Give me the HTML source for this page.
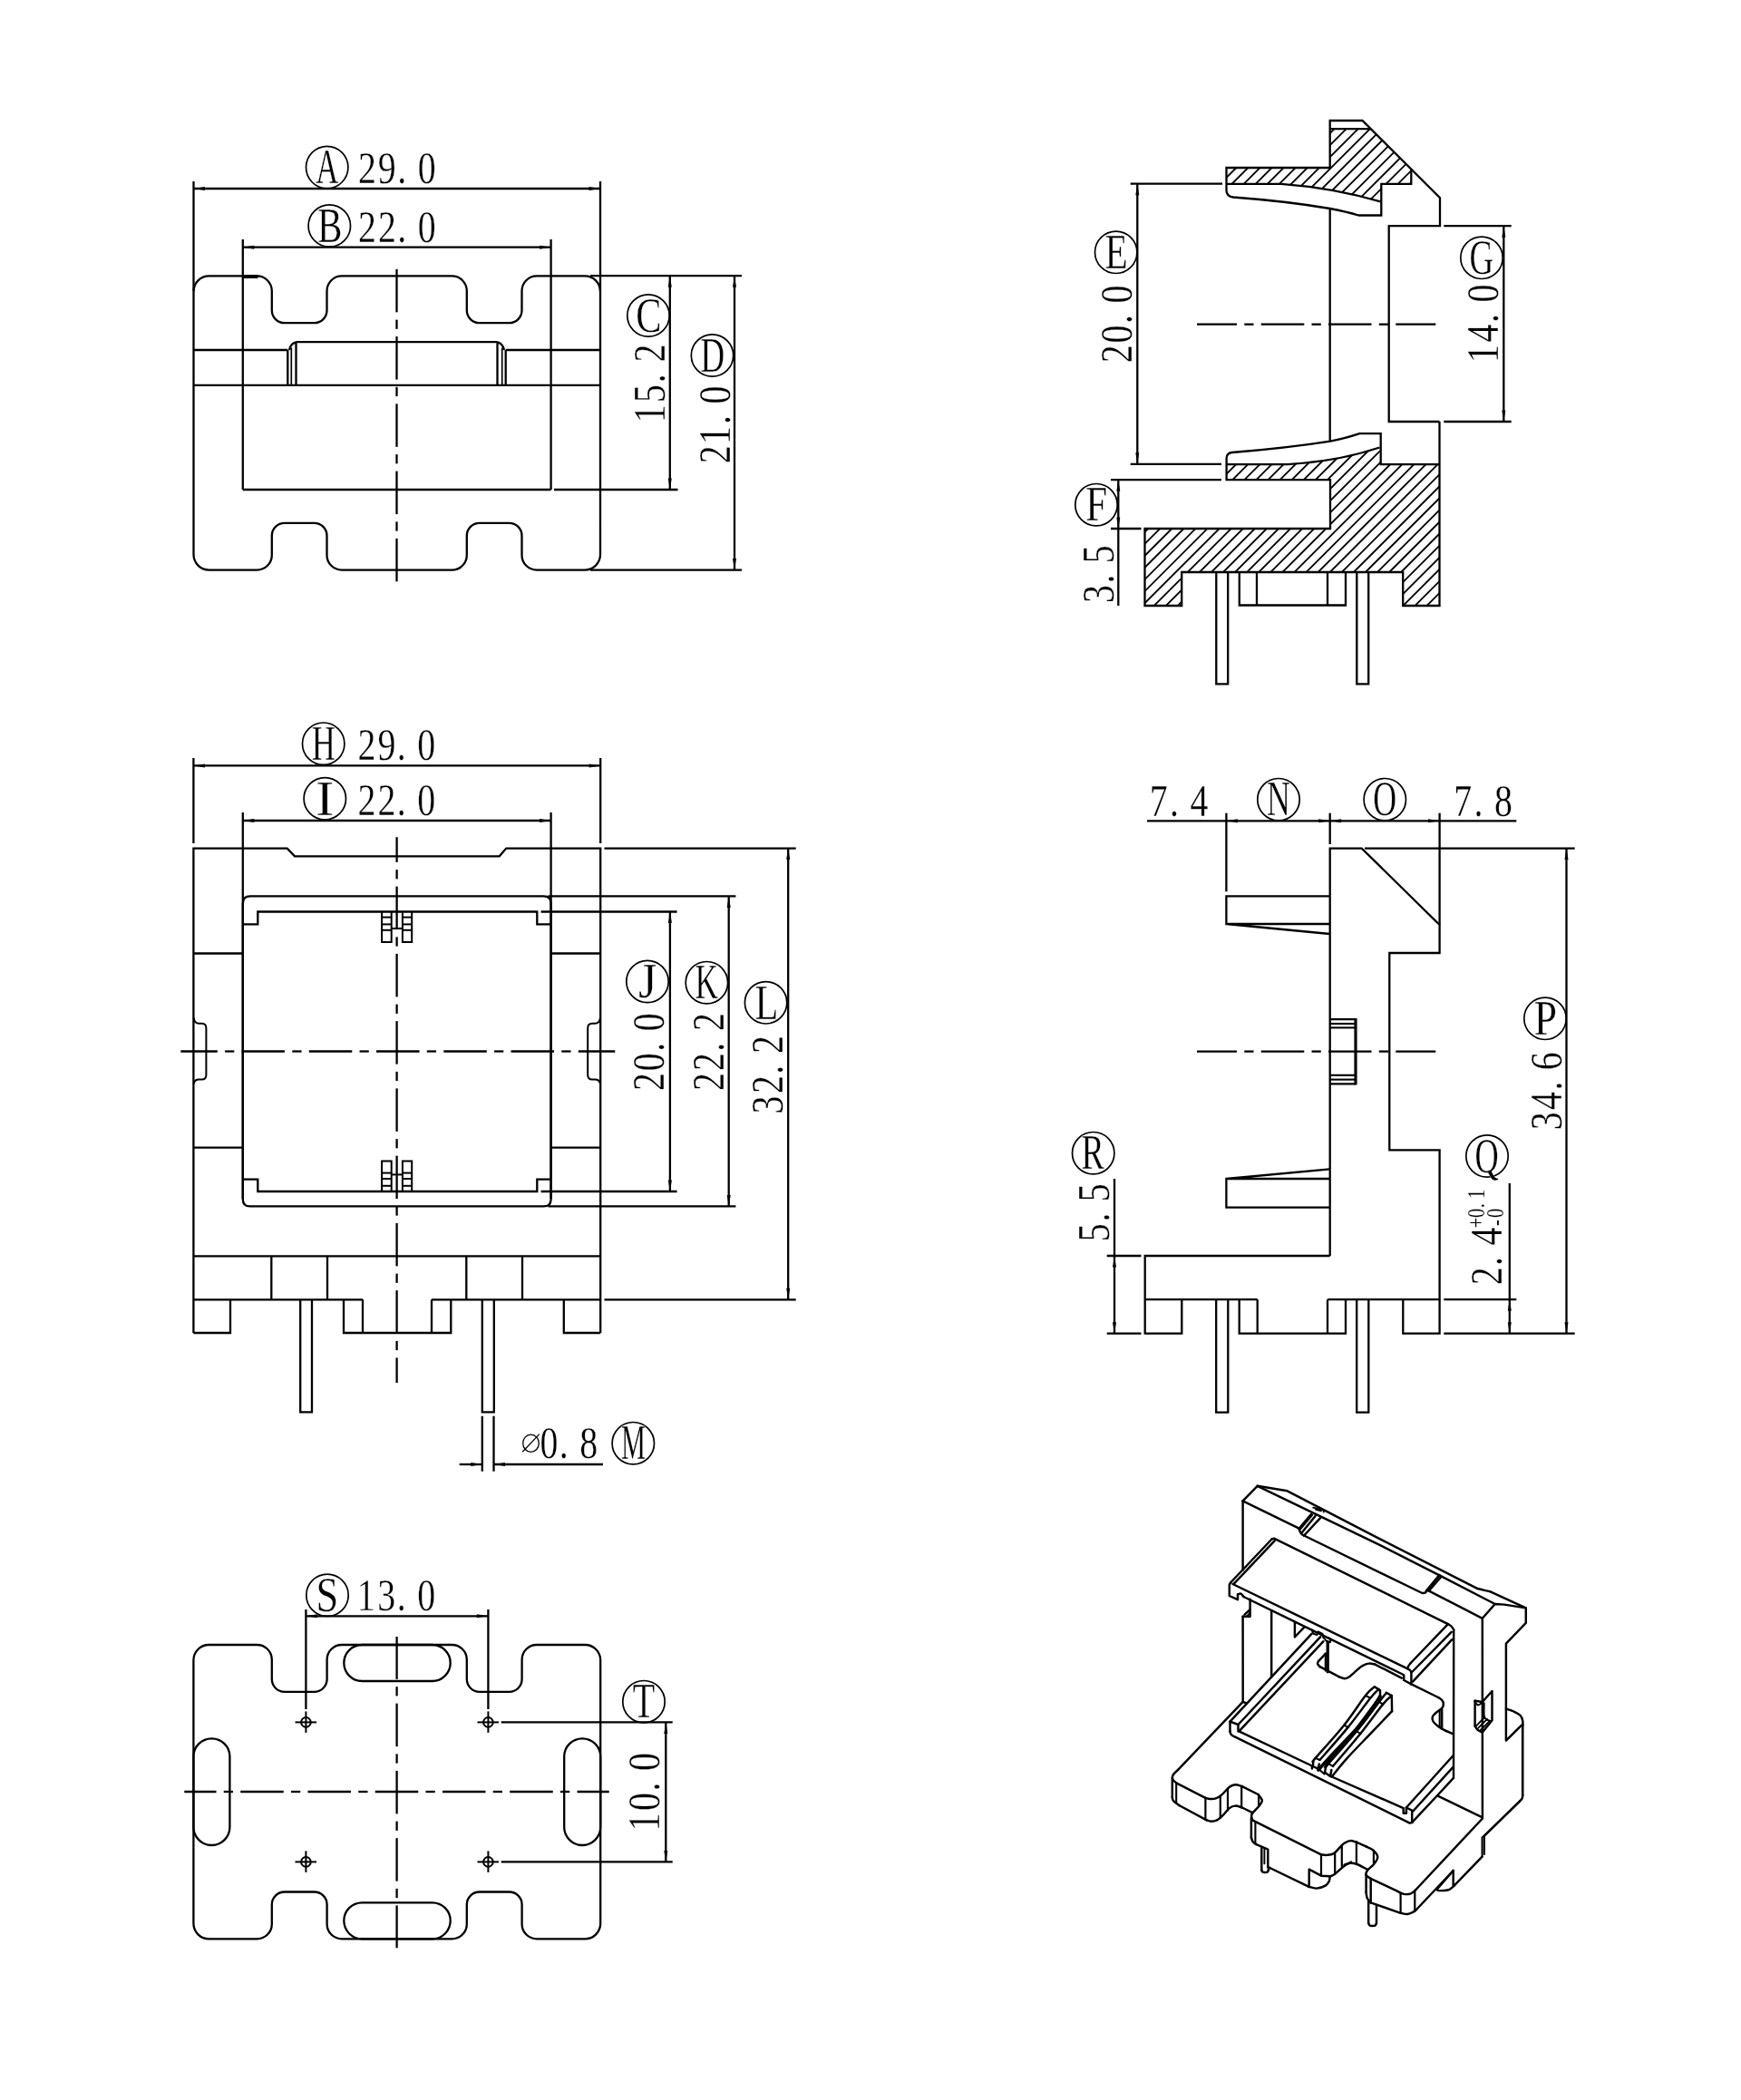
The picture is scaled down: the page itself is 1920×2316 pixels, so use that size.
<!DOCTYPE html>
<html><head><meta charset="utf-8"><title>drawing</title>
<style>html,body{margin:0;padding:0;background:#fff}svg{display:block;mix-blend-mode:multiply;filter:grayscale(1)}text{font-family:"Liberation Serif",serif;fill:#000;stroke:#fff;stroke-width:.35px;paint-order:fill stroke}</style>
</head><body>
<svg width="1920" height="2316" viewBox="0 0 1920 2316" fill="none" stroke="#000" stroke-linecap="butt" stroke-linejoin="miter">
<rect x="0" y="0" width="1920" height="2316" fill="#fff" stroke="none"/>
<g id="v1">
<path d="M213.5 321.4 A17 17 0 0 1 230.5 304.4 H283.4 A16.4 16.4 0 0 1 299.8 320.8 V342.2 A14 14 0 0 0 313.8 356.2 H346.5 A14 14 0 0 0 360.5 342.2 V320.8 A16.4 16.4 0 0 1 376.9 304.4 H498.4 A16.4 16.4 0 0 1 514.8 320.8 V342.2 A14 14 0 0 0 528.8 356.2 H561.5 A14 14 0 0 0 575.5 342.2 V320.8 A16.4 16.4 0 0 1 591.9 304.4 H645 A17 17 0 0 1 662 321.4 V611.6 A17 17 0 0 1 645 628.6 H591.9 A16.4 16.4 0 0 1 575.5 612.2 V590.8 A14 14 0 0 0 561.5 576.8 H528.8 A14 14 0 0 0 514.8 590.8 V612.2 A16.4 16.4 0 0 1 498.4 628.6 H376.9 A16.4 16.4 0 0 1 360.5 612.2 V590.8 A14 14 0 0 0 346.5 576.8 H313.8 A14 14 0 0 0 299.8 590.8 V612.2 A16.4 16.4 0 0 1 283.4 628.6 H230.5 A17 17 0 0 1 213.5 611.6 Z" stroke-width="2.3"/>
<line x1="268.5" y1="305" x2="284.5" y2="305" stroke-width="4"/>
<line x1="267.8" y1="264" x2="267.8" y2="540" stroke-width="2.3"/>
<line x1="607.6" y1="264" x2="607.6" y2="540" stroke-width="2.3"/>
<line x1="267.8" y1="540" x2="607.6" y2="540" stroke-width="2.3"/>
<line x1="213.5" y1="200" x2="213.5" y2="321" stroke-width="2.3"/>
<line x1="662" y1="200" x2="662" y2="321" stroke-width="2.3"/>
<line x1="213.5" y1="208" x2="662" y2="208" stroke-width="2.3"/>
<path d="M213.5 208 L226 206 L226 210 Z" fill="#000" stroke="none"/>
<path d="M662 208 L649.5 210 L649.5 206 Z" fill="#000" stroke="none"/>
<line x1="267.8" y1="272.7" x2="607.6" y2="272.7" stroke-width="2.3"/>
<path d="M267.8 272.7 L280.3 270.7 L280.3 274.7 Z" fill="#000" stroke="none"/>
<path d="M607.6 272.7 L595.1 274.7 L595.1 270.7 Z" fill="#000" stroke="none"/>
<circle cx="360.7" cy="184.6" r="23.2" stroke-width="1.7"/>
<text transform="translate(348.2 202.35) scale(0.64 1)" font-size="54.2">A</text>
<g transform="translate(396.1 202) rotate(0)"><text transform="scale(0.79 1)" font-size="50.4" x="-1.54 26.26 53.26 81.73" y="0.4">29.0</text></g>
<circle cx="363.3" cy="249" r="23.2" stroke-width="1.7"/>
<text transform="translate(350.17 266.75) scale(0.75 1)" font-size="54.2">B</text>
<g transform="translate(396.1 266.2) rotate(0)"><text transform="scale(0.79 1)" font-size="50.4" x="-1.54 26.31 53.26 81.73" y="0.4">22.0</text></g>
<line x1="213.5" y1="386" x2="317.3" y2="386" stroke-width="2.3"/>
<line x1="557.7" y1="386" x2="662" y2="386" stroke-width="2.3"/>
<line x1="213.5" y1="424.8" x2="662" y2="424.8" stroke-width="2.3"/>
<path d="M317.3 424.8 V386 M557.7 424.8 V386" stroke-width="2.3"/>
<path d="M321.3 424.8 V383.6 M553.7 424.8 V383.6" stroke-width="1.7"/>
<path d="M319 386 Q320.5 378.3 327.5 377.1 H547.5 Q554.5 378.3 556 386 M326.5 424.8 V377.8 M548.5 424.8 V377.8" stroke-width="2.3"/>
<line x1="437.5" y1="296.85" x2="437.5" y2="344.35" stroke-width="2.3"/>
<line x1="437.5" y1="352.6" x2="437.5" y2="362.85" stroke-width="2.3"/>
<line x1="437.5" y1="371.1" x2="437.5" y2="418.6" stroke-width="2.3"/>
<line x1="437.5" y1="426.85" x2="437.5" y2="437.1" stroke-width="2.3"/>
<line x1="437.5" y1="445.35" x2="437.5" y2="492.85" stroke-width="2.3"/>
<line x1="437.5" y1="501.1" x2="437.5" y2="511.35" stroke-width="2.3"/>
<line x1="437.5" y1="519.6" x2="437.5" y2="567.1" stroke-width="2.3"/>
<line x1="437.5" y1="575.35" x2="437.5" y2="585.6" stroke-width="2.3"/>
<line x1="437.5" y1="593.85" x2="437.5" y2="641.35" stroke-width="2.3"/>
<line x1="651" y1="304.2" x2="818" y2="304.2" stroke-width="2.3"/>
<line x1="611" y1="540" x2="747.5" y2="540" stroke-width="2.3"/>
<line x1="651" y1="628.6" x2="818" y2="628.6" stroke-width="2.3"/>
<line x1="738.8" y1="304.2" x2="738.8" y2="540" stroke-width="2.3"/>
<path d="M738.8 304.2 L740.8 316.7 L736.8 316.7 Z" fill="#000" stroke="none"/>
<path d="M738.8 540 L736.8 527.5 L740.8 527.5 Z" fill="#000" stroke="none"/>
<line x1="810" y1="304.2" x2="810" y2="628.6" stroke-width="2.3"/>
<path d="M810 304.2 L812 316.7 L808 316.7 Z" fill="#000" stroke="none"/>
<path d="M810 628.6 L808 616.1 L812 616.1 Z" fill="#000" stroke="none"/>
<circle cx="715" cy="348" r="23.2" stroke-width="1.7"/>
<text transform="translate(701.27 365.75) scale(0.78 1)" font-size="54.2">C</text>
<g transform="translate(732.3 464.3) rotate(-90)"><text transform="scale(0.79 1)" font-size="50.4" x="-2.52 25.55 53.26 82.01" y="0.4">15.2</text></g>
<circle cx="785.5" cy="392" r="23.2" stroke-width="1.7"/>
<text transform="translate(772.43 409.75) scale(0.68 1)" font-size="54.2">D</text>
<g transform="translate(804.3 510) rotate(-90)"><text transform="scale(0.79 1)" font-size="50.4" x="-1.54 25.33 53.26 81.73" y="0.4">21.0</text></g>
</g>
<g id="v2">
<defs><clipPath id="cu"><path d="M1352.5 185 H1466.7 V142.2 H1511.7 L1556.3 186.8 V202.8 H1523.3 V222 Q1470 207 1413 202.8 H1352.5 Z"/></clipPath><clipPath id="cl"><path d="M1352.6 512.1 H1420 Q1475 509 1521.5 493.5 L1522.7 512.1 H1587.5 V668 H1547.2 V631 H1303.2 V668 H1262.5 V583 H1467 V529.2 H1352.6 Z"/></clipPath></defs>
<g clip-path="url(#cu)">
<line x1="1382.16" y1="140" x2="1297.16" y2="225" stroke-width="1.85"/>
<line x1="1395.24" y1="140" x2="1310.24" y2="225" stroke-width="1.85"/>
<line x1="1408.32" y1="140" x2="1323.32" y2="225" stroke-width="1.85"/>
<line x1="1421.4" y1="140" x2="1336.4" y2="225" stroke-width="1.85"/>
<line x1="1434.48" y1="140" x2="1349.48" y2="225" stroke-width="1.85"/>
<line x1="1447.56" y1="140" x2="1362.56" y2="225" stroke-width="1.85"/>
<line x1="1460.64" y1="140" x2="1375.64" y2="225" stroke-width="1.85"/>
<line x1="1473.72" y1="140" x2="1388.72" y2="225" stroke-width="1.85"/>
<line x1="1486.8" y1="140" x2="1401.8" y2="225" stroke-width="1.85"/>
<line x1="1499.88" y1="140" x2="1414.88" y2="225" stroke-width="1.85"/>
<line x1="1512.96" y1="140" x2="1427.96" y2="225" stroke-width="1.85"/>
<line x1="1526.04" y1="140" x2="1441.04" y2="225" stroke-width="1.85"/>
<line x1="1539.12" y1="140" x2="1454.12" y2="225" stroke-width="1.85"/>
<line x1="1552.2" y1="140" x2="1467.2" y2="225" stroke-width="1.85"/>
<line x1="1565.28" y1="140" x2="1480.28" y2="225" stroke-width="1.85"/>
<line x1="1578.36" y1="140" x2="1493.36" y2="225" stroke-width="1.85"/>
<line x1="1591.44" y1="140" x2="1506.44" y2="225" stroke-width="1.85"/>
<line x1="1604.52" y1="140" x2="1519.52" y2="225" stroke-width="1.85"/>
<line x1="1617.6" y1="140" x2="1532.6" y2="225" stroke-width="1.85"/>
<line x1="1630.68" y1="140" x2="1545.68" y2="225" stroke-width="1.85"/>
<line x1="1643.76" y1="140" x2="1558.76" y2="225" stroke-width="1.85"/>
</g>
<g clip-path="url(#cl)">
<line x1="1267.6" y1="490" x2="1087.6" y2="670" stroke-width="1.85"/>
<line x1="1280.68" y1="490" x2="1100.68" y2="670" stroke-width="1.85"/>
<line x1="1293.76" y1="490" x2="1113.76" y2="670" stroke-width="1.85"/>
<line x1="1306.84" y1="490" x2="1126.84" y2="670" stroke-width="1.85"/>
<line x1="1319.92" y1="490" x2="1139.92" y2="670" stroke-width="1.85"/>
<line x1="1333" y1="490" x2="1153" y2="670" stroke-width="1.85"/>
<line x1="1346.08" y1="490" x2="1166.08" y2="670" stroke-width="1.85"/>
<line x1="1359.16" y1="490" x2="1179.16" y2="670" stroke-width="1.85"/>
<line x1="1372.24" y1="490" x2="1192.24" y2="670" stroke-width="1.85"/>
<line x1="1385.32" y1="490" x2="1205.32" y2="670" stroke-width="1.85"/>
<line x1="1398.4" y1="490" x2="1218.4" y2="670" stroke-width="1.85"/>
<line x1="1411.48" y1="490" x2="1231.48" y2="670" stroke-width="1.85"/>
<line x1="1424.56" y1="490" x2="1244.56" y2="670" stroke-width="1.85"/>
<line x1="1437.64" y1="490" x2="1257.64" y2="670" stroke-width="1.85"/>
<line x1="1450.72" y1="490" x2="1270.72" y2="670" stroke-width="1.85"/>
<line x1="1463.8" y1="490" x2="1283.8" y2="670" stroke-width="1.85"/>
<line x1="1476.88" y1="490" x2="1296.88" y2="670" stroke-width="1.85"/>
<line x1="1489.96" y1="490" x2="1309.96" y2="670" stroke-width="1.85"/>
<line x1="1503.04" y1="490" x2="1323.04" y2="670" stroke-width="1.85"/>
<line x1="1516.12" y1="490" x2="1336.12" y2="670" stroke-width="1.85"/>
<line x1="1529.2" y1="490" x2="1349.2" y2="670" stroke-width="1.85"/>
<line x1="1542.28" y1="490" x2="1362.28" y2="670" stroke-width="1.85"/>
<line x1="1555.36" y1="490" x2="1375.36" y2="670" stroke-width="1.85"/>
<line x1="1568.44" y1="490" x2="1388.44" y2="670" stroke-width="1.85"/>
<line x1="1581.52" y1="490" x2="1401.52" y2="670" stroke-width="1.85"/>
<line x1="1594.6" y1="490" x2="1414.6" y2="670" stroke-width="1.85"/>
<line x1="1607.68" y1="490" x2="1427.68" y2="670" stroke-width="1.85"/>
<line x1="1620.76" y1="490" x2="1440.76" y2="670" stroke-width="1.85"/>
<line x1="1633.84" y1="490" x2="1453.84" y2="670" stroke-width="1.85"/>
<line x1="1646.92" y1="490" x2="1466.92" y2="670" stroke-width="1.85"/>
<line x1="1660" y1="490" x2="1480" y2="670" stroke-width="1.85"/>
<line x1="1673.08" y1="490" x2="1493.08" y2="670" stroke-width="1.85"/>
<line x1="1686.16" y1="490" x2="1506.16" y2="670" stroke-width="1.85"/>
<line x1="1699.24" y1="490" x2="1519.24" y2="670" stroke-width="1.85"/>
<line x1="1712.32" y1="490" x2="1532.32" y2="670" stroke-width="1.85"/>
<line x1="1725.4" y1="490" x2="1545.4" y2="670" stroke-width="1.85"/>
<line x1="1738.48" y1="490" x2="1558.48" y2="670" stroke-width="1.85"/>
<line x1="1751.56" y1="490" x2="1571.56" y2="670" stroke-width="1.85"/>
<line x1="1764.64" y1="490" x2="1584.64" y2="670" stroke-width="1.85"/>
<line x1="1777.72" y1="490" x2="1597.72" y2="670" stroke-width="1.85"/>
<line x1="1790.8" y1="490" x2="1610.8" y2="670" stroke-width="1.85"/>
<line x1="1803.88" y1="490" x2="1623.88" y2="670" stroke-width="1.85"/>
</g>
<path d="M1466.7 185 V133 H1502.5 L1588 218.3 V249.2 H1531.7 V465 H1587.5" stroke-width="2.3"/>
<path d="M1466.7 185 H1352.5 V210 Q1352.5 216.5 1360 217.5 Q1420 222 1466.7 230 Q1485 233.5 1498.3 237.5 H1523.3 V202.8 H1556.3 V186.8" stroke-width="2.3"/>
<line x1="1466.7" y1="142.2" x2="1511.7" y2="142.2" stroke-width="2.3"/>
<path d="M1352.5 202.8 H1413 Q1470 207 1522.5 222.3" stroke-width="2.3"/>
<line x1="1466.7" y1="230" x2="1466.7" y2="486.7" stroke-width="2.3"/>
<path d="M1587.5 465 V668 H1547.2 V631 H1303.2 V668 H1262.5 V583 H1467 V529.2 H1352.6 V505.5 Q1352.6 499.8 1358.5 499 Q1420 494 1467 486.6 Q1485 483 1499.3 478.1 H1522.7 V512.1 H1587.5" stroke-width="2.3"/>
<path d="M1352.6 512.1 H1420 Q1475 509 1521.5 493.5" stroke-width="2.3"/>
<path d="M1341.3 631 V754.3 H1354.2 V631 M1496.3 631 V754.3 H1509.2 V631" stroke-width="2.3"/>
<path d="M1366.8 631 V667.5 H1484 V631 M1386 631 V667.5 M1464 631 V667.5" stroke-width="2.3"/>
<line x1="1320" y1="357.7" x2="1364.03" y2="357.7" stroke-width="2.3"/>
<line x1="1372.28" y1="357.7" x2="1382.53" y2="357.7" stroke-width="2.3"/>
<line x1="1390.78" y1="357.7" x2="1438.28" y2="357.7" stroke-width="2.3"/>
<line x1="1446.53" y1="357.7" x2="1456.78" y2="357.7" stroke-width="2.3"/>
<line x1="1465.03" y1="357.7" x2="1512.53" y2="357.7" stroke-width="2.3"/>
<line x1="1520.78" y1="357.7" x2="1531.03" y2="357.7" stroke-width="2.3"/>
<line x1="1539.28" y1="357.7" x2="1583.3" y2="357.7" stroke-width="2.3"/>
<line x1="1246.7" y1="202.7" x2="1348" y2="202.7" stroke-width="2.3"/>
<line x1="1246.7" y1="511.8" x2="1347" y2="511.8" stroke-width="2.3"/>
<line x1="1254.3" y1="202.7" x2="1254.3" y2="511.8" stroke-width="2.3"/>
<path d="M1254.3 202.7 L1256.3 215.2 L1252.3 215.2 Z" fill="#000" stroke="none"/>
<path d="M1254.3 511.8 L1252.3 499.3 L1256.3 499.3 Z" fill="#000" stroke="none"/>
<circle cx="1230.7" cy="278.3" r="23.2" stroke-width="1.7"/>
<text transform="translate(1218.5 296.05) scale(0.76 1)" font-size="54.2">E</text>
<g transform="translate(1247.8 399) rotate(-90)"><text transform="scale(0.79 1)" font-size="50.4" x="-1.54 26.03 53.26 81.73" y="0.4">20.0</text></g>
<line x1="1592.3" y1="249.2" x2="1666.7" y2="249.2" stroke-width="2.3"/>
<line x1="1592.3" y1="465" x2="1666.7" y2="465" stroke-width="2.3"/>
<line x1="1658.3" y1="249.2" x2="1658.3" y2="465" stroke-width="2.3"/>
<path d="M1658.3 249.2 L1660.3 261.7 L1656.3 261.7 Z" fill="#000" stroke="none"/>
<path d="M1658.3 465 L1656.3 452.5 L1660.3 452.5 Z" fill="#000" stroke="none"/>
<circle cx="1634" cy="284.3" r="23.2" stroke-width="1.7"/>
<text transform="translate(1620.48 302.05) scale(0.68 1)" font-size="54.2">G</text>
<g transform="translate(1651.5 398) rotate(-90)"><text transform="scale(0.79 1)" font-size="50.4" x="-2.52 25.93 53.26 81.73" y="0.4">14.0</text></g>
<line x1="1225" y1="529.2" x2="1347" y2="529.2" stroke-width="2.3"/>
<line x1="1225" y1="583" x2="1258.5" y2="583" stroke-width="2.3"/>
<line x1="1233.3" y1="529.2" x2="1233.3" y2="668" stroke-width="2.3"/>
<path d="M1233.3 529.2 L1235.3 541.7 L1231.3 541.7 Z" fill="#000" stroke="none"/>
<path d="M1233.3 583 L1231.3 570.5 L1235.3 570.5 Z" fill="#000" stroke="none"/>
<circle cx="1209" cy="556.7" r="23.2" stroke-width="1.7"/>
<text transform="translate(1197.26 574.45) scale(0.79 1)" font-size="54.2">F</text>
<g transform="translate(1228 663.5) rotate(-90)"><text transform="scale(0.79 1)" font-size="50.4" x="-2.04 25.41 53.4" y="0.4">3.5</text></g>
</g>
<g id="v3">
<path d="M213.4 1470 V935.6 H316.7 L325 944.3 H550.7 L558.3 935.6 H662.2 V1470" stroke-width="2.3"/>
<line x1="213.4" y1="836" x2="213.4" y2="930" stroke-width="2.3"/>
<line x1="662.2" y1="836" x2="662.2" y2="930" stroke-width="2.3"/>
<line x1="213.4" y1="844.4" x2="662.2" y2="844.4" stroke-width="2.3"/>
<path d="M213.4 844.4 L225.9 842.4 L225.9 846.4 Z" fill="#000" stroke="none"/>
<path d="M662.2 844.4 L649.7 846.4 L649.7 842.4 Z" fill="#000" stroke="none"/>
<line x1="267.8" y1="896" x2="267.8" y2="1322" stroke-width="2.3"/>
<line x1="607.6" y1="896" x2="607.6" y2="1322" stroke-width="2.3"/>
<line x1="267.8" y1="905" x2="607.6" y2="905" stroke-width="2.3"/>
<path d="M267.8 905 L280.3 903 L280.3 907 Z" fill="#000" stroke="none"/>
<path d="M607.6 905 L595.1 907 L595.1 903 Z" fill="#000" stroke="none"/>
<circle cx="356.7" cy="820.2" r="23.2" stroke-width="1.7"/>
<text transform="translate(343.65 837.95) scale(0.67 1)" font-size="54.2">H</text>
<g transform="translate(395.8 838) rotate(0)"><text transform="scale(0.79 1)" font-size="50.4" x="-1.54 26.26 53.26 81.73" y="0.4">29.0</text></g>
<circle cx="358.3" cy="880.8" r="23.2" stroke-width="1.7"/>
<text transform="translate(348.09 898.55) scale(1.13 1)" font-size="54.2">I</text>
<g transform="translate(395.8 898.2) rotate(0)"><text transform="scale(0.79 1)" font-size="50.4" x="-1.54 26.31 53.26 81.73" y="0.4">22.0</text></g>
<path d="M267.8 996.4 Q267.8 988.4 275.8 988.4 H599.6 Q607.6 988.4 607.6 996.4 V1322.4 Q607.6 1330.4 599.6 1330.4 H275.8 Q267.8 1330.4 267.8 1322.4 Z" stroke-width="2.3"/>
<path d="M267.8 1019.3 H284.3 V1005.5 H592.3 V1019.3 H607.6 M267.8 1300.6 H284.3 V1314 H592.3 V1300.6 H607.6" stroke-width="2.3"/>
<line x1="213.4" y1="1051.5" x2="267.8" y2="1051.5" stroke-width="2.3"/>
<line x1="607.6" y1="1051.5" x2="662.2" y2="1051.5" stroke-width="2.3"/>
<line x1="213.4" y1="1265.6" x2="267.8" y2="1265.6" stroke-width="2.3"/>
<line x1="607.6" y1="1265.6" x2="662.2" y2="1265.6" stroke-width="2.3"/>
<path d="M213.6 1122.4 Q214.5 1128.8 219.5 1128.8 H222.5 Q227.4 1128.8 227.4 1134 V1185.2 Q227.4 1190.6 222.5 1190.6 H219.5 Q214.5 1190.6 213.6 1195.2" stroke-width="2"/>
<path d="M662 1122.4 Q661.1 1128.8 656.1 1128.8 H653.1 Q648.2 1128.8 648.2 1134 V1185.2 Q648.2 1190.6 653.1 1190.6 H656.1 Q661.1 1190.6 662 1195.2" stroke-width="2"/>
<path d="M421.1 1005.5 V1038.9 H431.7 V1005.5" stroke-width="2"/>
<line x1="421.1" y1="1011.6" x2="431.7" y2="1011.6" stroke-width="2"/>
<line x1="421.1" y1="1019.4" x2="431.7" y2="1019.4" stroke-width="2"/>
<line x1="421.1" y1="1025.8" x2="431.7" y2="1025.8" stroke-width="2"/>
<path d="M421.1 1314 V1280.6 H431.7 V1314" stroke-width="2"/>
<line x1="421.1" y1="1307.8" x2="431.7" y2="1307.8" stroke-width="2"/>
<line x1="421.1" y1="1300" x2="431.7" y2="1300" stroke-width="2"/>
<line x1="421.1" y1="1293.6" x2="431.7" y2="1293.6" stroke-width="2"/>
<path d="M443.9 1005.5 V1038.9 H454.2 V1005.5" stroke-width="2"/>
<line x1="443.9" y1="1011.6" x2="454.2" y2="1011.6" stroke-width="2"/>
<line x1="443.9" y1="1019.4" x2="454.2" y2="1019.4" stroke-width="2"/>
<line x1="443.9" y1="1025.8" x2="454.2" y2="1025.8" stroke-width="2"/>
<path d="M443.9 1314 V1280.6 H454.2 V1314" stroke-width="2"/>
<line x1="443.9" y1="1307.8" x2="454.2" y2="1307.8" stroke-width="2"/>
<line x1="443.9" y1="1300" x2="454.2" y2="1300" stroke-width="2"/>
<line x1="443.9" y1="1293.6" x2="454.2" y2="1293.6" stroke-width="2"/>
<line x1="431.7" y1="1024" x2="443.9" y2="1024" stroke-width="2"/>
<line x1="431.7" y1="1295.4" x2="443.9" y2="1295.4" stroke-width="2"/>
<line x1="437.6" y1="923.25" x2="437.6" y2="950.88" stroke-width="2.3"/>
<line x1="437.6" y1="959.12" x2="437.6" y2="969.38" stroke-width="2.3"/>
<line x1="437.6" y1="977.62" x2="437.6" y2="1025.12" stroke-width="2.3"/>
<line x1="437.6" y1="1033.38" x2="437.6" y2="1043.62" stroke-width="2.3"/>
<line x1="437.6" y1="1051.88" x2="437.6" y2="1099.38" stroke-width="2.3"/>
<line x1="437.6" y1="1107.62" x2="437.6" y2="1117.88" stroke-width="2.3"/>
<line x1="437.6" y1="1126.12" x2="437.6" y2="1173.62" stroke-width="2.3"/>
<line x1="437.6" y1="1181.88" x2="437.6" y2="1192.12" stroke-width="2.3"/>
<line x1="437.6" y1="1200.38" x2="437.6" y2="1247.88" stroke-width="2.3"/>
<line x1="437.6" y1="1256.12" x2="437.6" y2="1266.38" stroke-width="2.3"/>
<line x1="437.6" y1="1274.62" x2="437.6" y2="1322.12" stroke-width="2.3"/>
<line x1="437.6" y1="1330.38" x2="437.6" y2="1340.62" stroke-width="2.3"/>
<line x1="437.6" y1="1348.88" x2="437.6" y2="1396.38" stroke-width="2.3"/>
<line x1="437.6" y1="1404.62" x2="437.6" y2="1414.88" stroke-width="2.3"/>
<line x1="437.6" y1="1423.12" x2="437.6" y2="1470.62" stroke-width="2.3"/>
<line x1="437.6" y1="1478.88" x2="437.6" y2="1489.12" stroke-width="2.3"/>
<line x1="437.6" y1="1497.38" x2="437.6" y2="1525" stroke-width="2.3"/>
<line x1="199.3" y1="1159.5" x2="239.8" y2="1159.5" stroke-width="2.3"/>
<line x1="248.05" y1="1159.5" x2="258.3" y2="1159.5" stroke-width="2.3"/>
<line x1="266.55" y1="1159.5" x2="314.05" y2="1159.5" stroke-width="2.3"/>
<line x1="322.3" y1="1159.5" x2="332.55" y2="1159.5" stroke-width="2.3"/>
<line x1="340.8" y1="1159.5" x2="388.3" y2="1159.5" stroke-width="2.3"/>
<line x1="396.55" y1="1159.5" x2="406.8" y2="1159.5" stroke-width="2.3"/>
<line x1="415.05" y1="1159.5" x2="462.55" y2="1159.5" stroke-width="2.3"/>
<line x1="470.8" y1="1159.5" x2="481.05" y2="1159.5" stroke-width="2.3"/>
<line x1="489.3" y1="1159.5" x2="536.8" y2="1159.5" stroke-width="2.3"/>
<line x1="545.05" y1="1159.5" x2="555.3" y2="1159.5" stroke-width="2.3"/>
<line x1="563.55" y1="1159.5" x2="611.05" y2="1159.5" stroke-width="2.3"/>
<line x1="619.3" y1="1159.5" x2="629.55" y2="1159.5" stroke-width="2.3"/>
<line x1="637.8" y1="1159.5" x2="678.3" y2="1159.5" stroke-width="2.3"/>
<line x1="213.4" y1="1385.4" x2="662.2" y2="1385.4" stroke-width="2.3"/>
<path d="M213.4 1433.3 H400 M476 1433.3 H662.2" stroke-width="2.3"/>
<line x1="299.3" y1="1385.4" x2="299.3" y2="1433.3" stroke-width="2.3"/>
<line x1="361" y1="1385.4" x2="361" y2="1433.3" stroke-width="2.3"/>
<line x1="514.3" y1="1385.4" x2="514.3" y2="1433.3" stroke-width="2.3"/>
<line x1="576" y1="1385.4" x2="576" y2="1433.3" stroke-width="2.3"/>
<path d="M213.4 1470 H254 V1433.3 M621.8 1433.3 V1470 H662.2" stroke-width="2.3"/>
<path d="M379 1433.3 V1470 H497.3 V1433.3 M400 1433.3 V1470 M476 1433.3 V1470" stroke-width="2.3"/>
<path d="M331.2 1433.3 V1557.3 H344 V1433.3 M531.8 1433.3 V1557.3 H544.8 V1433.3" stroke-width="2.3"/>
<line x1="666.5" y1="935.6" x2="877.7" y2="935.6" stroke-width="2.3"/>
<line x1="666.5" y1="1433.3" x2="877.7" y2="1433.3" stroke-width="2.3"/>
<line x1="869.2" y1="935.6" x2="869.2" y2="1433.3" stroke-width="2.3"/>
<path d="M869.2 935.6 L871.2 948.1 L867.2 948.1 Z" fill="#000" stroke="none"/>
<path d="M869.2 1433.3 L867.2 1420.8 L871.2 1420.8 Z" fill="#000" stroke="none"/>
<line x1="604.5" y1="988.4" x2="811.4" y2="988.4" stroke-width="2.3"/>
<line x1="604.5" y1="1330.4" x2="811.4" y2="1330.4" stroke-width="2.3"/>
<line x1="803.7" y1="988.4" x2="803.7" y2="1330.4" stroke-width="2.3"/>
<path d="M803.7 988.4 L805.7 1000.9 L801.7 1000.9 Z" fill="#000" stroke="none"/>
<path d="M803.7 1330.4 L801.7 1317.9 L805.7 1317.9 Z" fill="#000" stroke="none"/>
<line x1="596.6" y1="1005.5" x2="746.6" y2="1005.5" stroke-width="2.3"/>
<line x1="596.6" y1="1314" x2="746.6" y2="1314" stroke-width="2.3"/>
<line x1="738.9" y1="1005.5" x2="738.9" y2="1314" stroke-width="2.3"/>
<path d="M738.9 1005.5 L740.9 1018 L736.9 1018 Z" fill="#000" stroke="none"/>
<path d="M738.9 1314 L736.9 1301.5 L740.9 1301.5 Z" fill="#000" stroke="none"/>
<circle cx="714" cy="1082.5" r="23.2" stroke-width="1.7"/>
<text transform="translate(703.91 1100.25) scale(0.96 1)" font-size="54.2">J</text>
<g transform="translate(731.7 1201.8) rotate(-90)"><text transform="scale(0.79 1)" font-size="50.4" x="-1.54 26.03 53.26 81.73" y="0.4">20.0</text></g>
<circle cx="779.4" cy="1083.7" r="23.2" stroke-width="1.7"/>
<text transform="translate(766.38 1101.45) scale(0.65 1)" font-size="54.2">K</text>
<g transform="translate(797.3 1201.8) rotate(-90)"><text transform="scale(0.79 1)" font-size="50.4" x="-1.54 26.31 53.26 82.01" y="0.4">22.2</text></g>
<circle cx="844.6" cy="1105.8" r="23.2" stroke-width="1.7"/>
<text transform="translate(832.38 1123.55) scale(0.78 1)" font-size="54.2">L</text>
<g transform="translate(862.8 1226.8) rotate(-90)"><text transform="scale(0.79 1)" font-size="50.4" x="-2.04 26.31 53.26 82.01" y="0.4">32.2</text></g>
<line x1="531.8" y1="1561.7" x2="531.8" y2="1622.7" stroke-width="2.3"/>
<line x1="544.5" y1="1561.7" x2="544.5" y2="1622.7" stroke-width="2.3"/>
<line x1="506.7" y1="1615" x2="531.8" y2="1615" stroke-width="2.3"/>
<line x1="544.5" y1="1615" x2="665" y2="1615" stroke-width="2.3"/>
<path d="M531.8 1615 L519.3 1617 L519.3 1613 Z" fill="#000" stroke="none"/>
<path d="M544.5 1615 L557 1613 L557 1617 Z" fill="#000" stroke="none"/>
<g transform="translate(596.8 1608) rotate(0)"><text transform="scale(0.79 1)" font-size="50.4" x="-1.82 25.41 53.88" y="0.4">0.8</text></g>
<ellipse cx="585.5" cy="1591.7" rx="8.8" ry="9.6" stroke-width="1.3"/>
<line x1="576.2" y1="1601.2" x2="594.8" y2="1581.6" stroke-width="1.3"/>
<circle cx="698.3" cy="1591.7" r="23.2" stroke-width="1.7"/>
<text transform="translate(684.93 1609.45) scale(0.56 1)" font-size="54.2">M</text>
</g>
<g id="v4">
<line x1="1265" y1="905.3" x2="1672.3" y2="905.3" stroke-width="2.3"/>
<line x1="1352.4" y1="896.7" x2="1352.4" y2="983.3" stroke-width="2.3"/>
<line x1="1466.7" y1="896.7" x2="1466.7" y2="931" stroke-width="2.3"/>
<line x1="1587.6" y1="896.7" x2="1587.6" y2="1020" stroke-width="2.3"/>
<path d="M1352.4 905.3 L1364.9 903.3 L1364.9 907.3 Z" fill="#000" stroke="none"/>
<path d="M1466.7 905.3 L1454.2 907.3 L1454.2 903.3 Z" fill="#000" stroke="none"/>
<path d="M1466.7 905.3 L1479.2 903.3 L1479.2 907.3 Z" fill="#000" stroke="none"/>
<path d="M1587.6 905.3 L1575.1 907.3 L1575.1 903.3 Z" fill="#000" stroke="none"/>
<g transform="translate(1270 899.5) rotate(0)"><text transform="scale(0.79 1)" font-size="50.4" x="-2.75 25.41 53.78" y="0.4">7.4</text></g>
<g transform="translate(1605.5 899.5) rotate(0)"><text transform="scale(0.79 1)" font-size="50.4" x="-2.75 25.41 53.88" y="0.4">7.8</text></g>
<circle cx="1410" cy="881.7" r="23.2" stroke-width="1.7"/>
<text transform="translate(1396.96 899.45) scale(0.66 1)" font-size="54.2">N</text>
<circle cx="1527.3" cy="881.7" r="23.2" stroke-width="1.7"/>
<text transform="translate(1514.32 899.45) scale(0.66 1)" font-size="54.2">O</text>
<path d="M1466.7 1385 V935.6 H1501.7 L1587.6 1020 V1051 H1532.3 V1268.3 H1587.6 V1470.7 H1547.3 V1433.2" stroke-width="2.3"/>
<line x1="1505" y1="935.6" x2="1736.7" y2="935.6" stroke-width="2.3"/>
<path d="M1466.7 1385 H1262.7 V1470.7 H1303.3 V1433.2" stroke-width="2.3"/>
<path d="M1262.7 1433.2 H1386.7 M1464 1433.2 H1587.6" stroke-width="2.3"/>
<path d="M1366.7 1433.2 V1470.7 H1484 V1433.2 M1386.7 1433.2 V1470.7 M1464 1433.2 V1470.7" stroke-width="2.3"/>
<path d="M1341.2 1433.2 V1557.7 H1354.3 V1433.2 M1496.2 1433.2 V1557.7 H1509.3 V1433.2" stroke-width="2.3"/>
<path d="M1466.7 988.3 H1352.4 V1019 H1466.7 M1352.4 1019 L1466.7 1030" stroke-width="2.3"/>
<path d="M1466.7 1331.7 H1352.4 V1300 H1466.7 M1352.4 1300 L1466.7 1289.3" stroke-width="2.3"/>
<path d="M1466.7 1124.2 H1495 M1466.7 1195.3 H1495" stroke-width="2.3"/>
<line x1="1495" y1="1123.1" x2="1495" y2="1196.4" stroke-width="3.2"/>
<line x1="1466.7" y1="1129" x2="1494.5" y2="1129" stroke-width="2.1"/>
<line x1="1466.7" y1="1133.4" x2="1494.5" y2="1133.4" stroke-width="2.1"/>
<line x1="1466.7" y1="1185.8" x2="1494.5" y2="1185.8" stroke-width="2.1"/>
<line x1="1466.7" y1="1190.6" x2="1494.5" y2="1190.6" stroke-width="2.1"/>
<line x1="1320" y1="1159.6" x2="1364.03" y2="1159.6" stroke-width="2.3"/>
<line x1="1372.28" y1="1159.6" x2="1382.53" y2="1159.6" stroke-width="2.3"/>
<line x1="1390.78" y1="1159.6" x2="1438.28" y2="1159.6" stroke-width="2.3"/>
<line x1="1446.53" y1="1159.6" x2="1456.78" y2="1159.6" stroke-width="2.3"/>
<line x1="1465.03" y1="1159.6" x2="1512.53" y2="1159.6" stroke-width="2.3"/>
<line x1="1520.78" y1="1159.6" x2="1531.03" y2="1159.6" stroke-width="2.3"/>
<line x1="1539.28" y1="1159.6" x2="1583.3" y2="1159.6" stroke-width="2.3"/>
<line x1="1592.3" y1="1470.7" x2="1736.7" y2="1470.7" stroke-width="2.3"/>
<line x1="1727.5" y1="935.6" x2="1727.5" y2="1470.7" stroke-width="2.3"/>
<path d="M1727.5 935.6 L1729.5 948.1 L1725.5 948.1 Z" fill="#000" stroke="none"/>
<path d="M1727.5 1470.7 L1725.5 1458.2 L1729.5 1458.2 Z" fill="#000" stroke="none"/>
<circle cx="1704" cy="1123.3" r="23.2" stroke-width="1.7"/>
<text transform="translate(1691.69 1141.05) scale(0.84 1)" font-size="54.2">P</text>
<g transform="translate(1721.5 1244.6) rotate(-90)"><text transform="scale(0.79 1)" font-size="50.4" x="-2.04 25.93 53.26 81.4" y="0.4">34.6</text></g>
<line x1="1592.3" y1="1433.2" x2="1672.3" y2="1433.2" stroke-width="2.3"/>
<line x1="1664.8" y1="1305" x2="1664.8" y2="1470.7" stroke-width="2.3"/>
<path d="M1664.8 1433.2 L1666.8 1445.7 L1662.8 1445.7 Z" fill="#000" stroke="none"/>
<path d="M1664.8 1470.7 L1662.8 1458.2 L1666.8 1458.2 Z" fill="#000" stroke="none"/>
<circle cx="1640" cy="1275" r="23.2" stroke-width="1.7"/>
<text transform="translate(1626.52 1292.75) scale(0.67 1)" font-size="54.2">Q</text>
<g transform="translate(1655.7 1416) rotate(-90)"><text transform="scale(0.79 1)" font-size="50.4" x="-1.54 25.41 53.78" y="0.4">2.4</text></g>
<g transform="translate(1637 1353) rotate(-90)"><text transform="scale(0.77 1)" font-size="26.5" x="-1.76 13 26.95 40.42" y="0.4" style="stroke-width:.15px">+0.1</text></g>
<g transform="translate(1658 1353) rotate(-90)"><text transform="scale(0.77 1)" font-size="26.5" x="1.3 13" y="0.4" style="stroke-width:.15px">-0</text></g>
<line x1="1220.7" y1="1385" x2="1258.5" y2="1385" stroke-width="2.3"/>
<line x1="1220.7" y1="1470.7" x2="1258.5" y2="1470.7" stroke-width="2.3"/>
<line x1="1229" y1="1300" x2="1229" y2="1470.7" stroke-width="2.3"/>
<path d="M1229 1385 L1231 1397.5 L1227 1397.5 Z" fill="#000" stroke="none"/>
<path d="M1229 1470.7 L1227 1458.2 L1231 1458.2 Z" fill="#000" stroke="none"/>
<circle cx="1205.7" cy="1271.7" r="23.2" stroke-width="1.7"/>
<text transform="translate(1192.61 1289.45) scale(0.7 1)" font-size="54.2">R</text>
<g transform="translate(1222.5 1367.5) rotate(-90)"><text transform="scale(0.79 1)" font-size="50.4" x="-2.29 25.41 53.4" y="0.4">5.5</text></g>
</g>
<g id="v5">
<path d="M213.4 1831 A17 17 0 0 1 230.4 1814 H283.4 A16.4 16.4 0 0 1 299.8 1830.4 V1851.8 A14 14 0 0 0 313.8 1865.8 H346.6 A14 14 0 0 0 360.6 1851.8 V1830.4 A16.4 16.4 0 0 1 377 1814 H498.4 A16.4 16.4 0 0 1 514.8 1830.4 V1851.8 A14 14 0 0 0 528.8 1865.8 H561.6 A14 14 0 0 0 575.6 1851.8 V1830.4 A16.4 16.4 0 0 1 592 1814 H645.2 A17 17 0 0 1 662.2 1831 V2121.3 A17 17 0 0 1 645.2 2138.3 H592 A16.4 16.4 0 0 1 575.6 2121.9 V2100.5 A14 14 0 0 0 561.6 2086.5 H528.8 A14 14 0 0 0 514.8 2100.5 V2121.9 A16.4 16.4 0 0 1 498.4 2138.3 H377 A16.4 16.4 0 0 1 360.6 2121.9 V2100.5 A14 14 0 0 0 346.6 2086.5 H313.8 A14 14 0 0 0 299.8 2100.5 V2121.9 A16.4 16.4 0 0 1 283.4 2138.3 H230.4 A17 17 0 0 1 213.4 2121.3 Z" stroke-width="2.3"/>
<path d="M399.3 1814 H476.7 A20 20 0 0 1 476.7 1854 H399.3 A20 20 0 0 1 399.3 1814 Z" stroke-width="2.3"/>
<path d="M399.3 2098.3 H476.7 A20 20 0 0 1 476.7 2138.3 H399.3 A20 20 0 0 1 399.3 2098.3 Z" stroke-width="2.3"/>
<path d="M213.4 2015 V1937.3 A20 20 0 0 1 253.4 1937.3 V2015 A20 20 0 0 1 213.4 2015 Z" stroke-width="2.3"/>
<path d="M622.2 2015 V1937.3 A20 20 0 0 1 662.2 1937.3 V2015 A20 20 0 0 1 622.2 2015 Z" stroke-width="2.3"/>
<line x1="437.6" y1="1805" x2="437.6" y2="1851.9" stroke-width="2.3"/>
<line x1="437.6" y1="1860.15" x2="437.6" y2="1870.4" stroke-width="2.3"/>
<line x1="437.6" y1="1878.65" x2="437.6" y2="1926.15" stroke-width="2.3"/>
<line x1="437.6" y1="1934.4" x2="437.6" y2="1944.65" stroke-width="2.3"/>
<line x1="437.6" y1="1952.9" x2="437.6" y2="2000.4" stroke-width="2.3"/>
<line x1="437.6" y1="2008.65" x2="437.6" y2="2018.9" stroke-width="2.3"/>
<line x1="437.6" y1="2027.15" x2="437.6" y2="2074.65" stroke-width="2.3"/>
<line x1="437.6" y1="2082.9" x2="437.6" y2="2093.15" stroke-width="2.3"/>
<line x1="437.6" y1="2101.4" x2="437.6" y2="2148.3" stroke-width="2.3"/>
<line x1="203.3" y1="1976" x2="238.5" y2="1976" stroke-width="2.3"/>
<line x1="246.75" y1="1976" x2="257" y2="1976" stroke-width="2.3"/>
<line x1="265.25" y1="1976" x2="312.75" y2="1976" stroke-width="2.3"/>
<line x1="321" y1="1976" x2="331.25" y2="1976" stroke-width="2.3"/>
<line x1="339.5" y1="1976" x2="387" y2="1976" stroke-width="2.3"/>
<line x1="395.25" y1="1976" x2="405.5" y2="1976" stroke-width="2.3"/>
<line x1="413.75" y1="1976" x2="461.25" y2="1976" stroke-width="2.3"/>
<line x1="469.5" y1="1976" x2="479.75" y2="1976" stroke-width="2.3"/>
<line x1="488" y1="1976" x2="535.5" y2="1976" stroke-width="2.3"/>
<line x1="543.75" y1="1976" x2="554" y2="1976" stroke-width="2.3"/>
<line x1="562.25" y1="1976" x2="609.75" y2="1976" stroke-width="2.3"/>
<line x1="618" y1="1976" x2="628.25" y2="1976" stroke-width="2.3"/>
<line x1="636.5" y1="1976" x2="671.7" y2="1976" stroke-width="2.3"/>
<circle cx="337.4" cy="1899.4" r="5.3" stroke-width="2"/>
<line x1="325.5" y1="1899.4" x2="349" y2="1899.4" stroke-width="2"/>
<line x1="337.4" y1="1887.4" x2="337.4" y2="1910.9" stroke-width="2"/>
<circle cx="337.4" cy="2053.4" r="5.3" stroke-width="2"/>
<line x1="325.5" y1="2053.4" x2="349" y2="2053.4" stroke-width="2"/>
<line x1="337.4" y1="2041.4" x2="337.4" y2="2064.9" stroke-width="2"/>
<circle cx="538.4" cy="1899.4" r="5.3" stroke-width="2"/>
<line x1="526.5" y1="1899.4" x2="550" y2="1899.4" stroke-width="2"/>
<line x1="538.4" y1="1887.4" x2="538.4" y2="1910.9" stroke-width="2"/>
<circle cx="538.4" cy="2053.4" r="5.3" stroke-width="2"/>
<line x1="526.5" y1="2053.4" x2="550" y2="2053.4" stroke-width="2"/>
<line x1="538.4" y1="2041.4" x2="538.4" y2="2064.9" stroke-width="2"/>
<line x1="337.4" y1="1775" x2="337.4" y2="1885" stroke-width="2.3"/>
<line x1="538.4" y1="1775" x2="538.4" y2="1885" stroke-width="2.3"/>
<line x1="337.4" y1="1782.3" x2="538.4" y2="1782.3" stroke-width="2.3"/>
<path d="M337.4 1782.3 L349.9 1780.3 L349.9 1784.3 Z" fill="#000" stroke="none"/>
<path d="M538.4 1782.3 L525.9 1784.3 L525.9 1780.3 Z" fill="#000" stroke="none"/>
<circle cx="361" cy="1759.3" r="23.2" stroke-width="1.7"/>
<text transform="translate(348.51 1777.05) scale(0.82 1)" font-size="54.2">S</text>
<g transform="translate(395.8 1775.5) rotate(0)"><text transform="scale(0.79 1)" font-size="50.4" x="-2.52 25.81 53.26 81.73" y="0.4">13.0</text></g>
<line x1="552.7" y1="1899.4" x2="741.7" y2="1899.4" stroke-width="2.3"/>
<line x1="552.7" y1="2053.4" x2="741.7" y2="2053.4" stroke-width="2.3"/>
<line x1="734.3" y1="1899.4" x2="734.3" y2="2053.4" stroke-width="2.3"/>
<path d="M734.3 1899.4 L736.3 1911.9 L732.3 1911.9 Z" fill="#000" stroke="none"/>
<path d="M734.3 2053.4 L732.3 2040.9 L736.3 2040.9 Z" fill="#000" stroke="none"/>
<circle cx="710" cy="1876.7" r="23.2" stroke-width="1.7"/>
<text transform="translate(697.78 1894.45) scale(0.74 1)" font-size="54.2">T</text>
<g transform="translate(726.3 2017.5) rotate(-90)"><text transform="scale(0.79 1)" font-size="50.4" x="-2.52 26.03 53.26 81.73" y="0.4">10.0</text></g>
</g>
<g id="iso" stroke-linejoin="round" stroke-linecap="round">
<path d="M1370.6 1655.3 L1386.7 1638.8 L1419.7 1644.3 L1520 1696.4 L1629.1 1751.9" stroke-width="2.45"/>
<path d="M1629.1 1751.9 C1630.25 1752.18 1633.68 1753.07 1636 1753.6 C1638.32 1754.13 1641.83 1754.85 1643 1755.1" stroke-width="2.45"/>
<path d="M1643 1755.1 L1682.8 1773.4 L1682.8 1789.8 L1660.9 1812.6 L1660.9 1919.6 L1677.8 1902.8" stroke-width="2.45"/>
<path d="M1386.7 1638.8 L1520 1703.2 L1589.9 1738.6 L1648.7 1769" stroke-width="2.45"/>
<path d="M1634.8 1784.8 L1648.7 1769 L1659 1769.6 L1682.8 1773.4" stroke-width="2.45"/>
<path d="M1448.2 1662.7 L1459.7 1665.4 L1459.7 1667.5" stroke-width="1.9"/>
<path d="M1451 1664.8 L1457 1666.2" stroke-width="1.9"/>
<path d="M1370.6 1655.3 L1432.6 1685.7" stroke-width="2.45"/>
<path d="M1432.6 1685.7 C1432.77 1686.25 1433.12 1687.98 1433.6 1689 C1434.08 1690.02 1434.75 1691.05 1435.5 1691.8 C1436.25 1692.55 1437.67 1693.22 1438.1 1693.5" stroke-width="2.45"/>
<path d="M1438.1 1693.5 L1568.5 1757 L1571.8 1756.6" stroke-width="2.45"/>
<path d="M1432.6 1685.7 L1445.9 1670" stroke-width="2.45"/>
<path d="M1434.2 1686.4 L1447.4 1670.6" stroke-width="1.8"/>
<path d="M1436.3 1689.6 L1450.5 1671.9" stroke-width="2.45"/>
<path d="M1438.1 1693.5 L1456.5 1673.7" stroke-width="2.45"/>
<path d="M1587.4 1737.4 L1572.9 1755.1" stroke-width="3.2"/>
<path d="M1589.9 1738.6 L1576 1754.7" stroke-width="2"/>
<path d="M1576 1754.7 L1634.8 1784.8" stroke-width="2.45"/>
<path d="M1370.6 1655.3 L1370.6 1731.6" stroke-width="2.45"/>
<path d="M1370.6 1782.7 L1370.7 1876.9" stroke-width="2.45"/>
<path d="M1634.8 1784.8 L1634.9 2005" stroke-width="2.45"/>
<path d="M1603.2 1797.5 L1603 1961" stroke-width="2.4"/>
<path d="M1402.2 1776.4 L1402.2 1849.5" stroke-width="2.45"/>
<path d="M1357.5 1745 L1402.5 1697.5" stroke-width="2.45"/>
<path d="M1360.8 1746.7 L1405.8 1699.2" stroke-width="2.45"/>
<path d="M1402.5 1697.5 L1405 1696.7 L1596.9 1791.1" stroke-width="2.45"/>
<path d="M1596.9 1791.1 C1597.5 1791.5 1599.45 1792.43 1600.5 1793.5 C1601.55 1794.57 1602.75 1796.83 1603.2 1797.5" stroke-width="2.45"/>
<path d="M1596.9 1791.1 L1555.8 1834" stroke-width="2.45"/>
<path d="M1555.8 1834 C1555.37 1834.58 1553.73 1836.45 1553.2 1837.5 C1552.67 1838.55 1552.27 1839.52 1552.6 1840.3 C1552.93 1841.08 1554.57 1841.5 1555.2 1842.2 C1555.83 1842.9 1556.2 1844.12 1556.4 1844.5" stroke-width="2.45"/>
<path d="M1556.4 1844.5 L1556.4 1857.4" stroke-width="2.45"/>
<path d="M1357.5 1745 L1355.8 1747.5 L1355.8 1760 L1365 1764.2 L1365 1758.5" stroke-width="2.45"/>
<path d="M1365 1758.5 C1365.58 1758.35 1367.42 1757.18 1368.5 1757.6 C1369.58 1758.02 1371 1760.43 1371.5 1761" stroke-width="2.45"/>
<path d="M1359.5 1747 L1552.8 1840.6" stroke-width="2.45"/>
<path d="M1371.5 1761 L1545.7 1846 L1548.2 1847.3 L1548.2 1853 L1556.4 1857.4" stroke-width="2.45"/>
<path d="M1600.7 1799.9 L1557.7 1843.5" stroke-width="2.45"/>
<path d="M1601.3 1808.2 L1558 1854.6" stroke-width="2.45"/>
<path d="M1378.6 1763.8 L1378.6 1782.7 L1370.6 1782.7" stroke-width="2.45"/>
<path d="M1372.6 1780.6 L1378.6 1775.2" stroke-width="2.45"/>
<path d="M1375.5 1782 L1378.6 1778.5" stroke-width="1.8"/>
<path d="M1427.9 1789.1 L1427.9 1805.5 L1438.7 1794.1" stroke-width="2.45"/>
<path d="M1446.7 1797.5 L1448.3 1801.7 L1452.5 1803 L1453.5 1799.5 L1458.5 1802 L1459.5 1806.5" stroke-width="2"/>
<path d="M1460.5 1807 L1463.3 1810.5" stroke-width="2"/>
<path d="M1464 1806 L1467.5 1807.5 L1467 1811 L1464.5 1811.5" stroke-width="2"/>
<path d="M1356.5 1898.6 L1446.5 1801.8" stroke-width="2.45"/>
<path d="M1365.5 1902 L1456.3 1805.2" stroke-width="2.45"/>
<path d="M1366.9 1908.9 L1459.5 1810.2" stroke-width="2.45"/>
<path d="M1356.5 1898.6 L1365.5 1902 L1365.5 1909.6" stroke-width="2.45"/>
<path d="M1370.7 1876.9 L1375.1 1878.6" stroke-width="2.45"/>
<path d="M1356.5 1898.6 L1356.5 1909.6" stroke-width="2.45"/>
<path d="M1356.5 1909.6 C1356.62 1910.03 1356.73 1911.42 1357.2 1912.2 C1357.67 1912.98 1358.38 1913.7 1359.3 1914.3 C1360.22 1914.9 1362.13 1915.55 1362.7 1915.8" stroke-width="2.45"/>
<path d="M1362.7 1915.8 L1554.7 2010.6 L1557.2 2009.9" stroke-width="2.45"/>
<path d="M1366.9 1909.6 L1446.9 1947.5 L1446.9 1950.5" stroke-width="2.45"/>
<path d="M1464.2 1810.5 L1464.2 1843.8" stroke-width="3.3"/>
<path d="M1461.8 1823.5 L1461.8 1842.6" stroke-width="2.1"/>
<path d="M1462 1823.7 L1454.2 1831.8" stroke-width="2.45"/>
<path d="M1454.2 1831.8 C1454 1832.3 1452.75 1833.73 1453 1834.8 C1453.25 1835.87 1455.25 1837.63 1455.7 1838.2" stroke-width="2.45"/>
<path d="M1455.7 1838.2 L1476.5 1849.2" stroke-width="2.45"/>
<path d="M1476.5 1849.2 C1477.57 1849.53 1480.9 1851.23 1482.9 1851.2 C1484.9 1851.17 1485.88 1850.87 1488.5 1849 C1491.12 1847.13 1496.02 1842.12 1498.6 1840 C1501.18 1837.88 1502.13 1837.2 1504 1836.3 C1505.87 1835.4 1507.8 1834.75 1509.8 1834.6 C1511.8 1834.45 1514.97 1835.27 1516 1835.4" stroke-width="2.45"/>
<path d="M1516 1835.4 L1545.7 1850.6" stroke-width="2.45"/>
<path d="M1556.4 1857.4 L1586.1 1872" stroke-width="2.45"/>
<path d="M1586.1 1872 C1586.78 1872.5 1589.25 1873.83 1590.2 1875 C1591.15 1876.17 1591.75 1877.58 1591.8 1879 C1591.85 1880.42 1591.97 1881.75 1590.5 1883.5 C1589.03 1885.25 1584.78 1887.85 1583 1889.5 C1581.22 1891.15 1580.22 1891.9 1579.8 1893.4 C1579.38 1894.9 1579.55 1896.82 1580.5 1898.5 C1581.45 1900.18 1583.42 1901.88 1585.5 1903.5 C1587.58 1905.12 1590.12 1906.72 1593 1908.2 C1595.88 1909.68 1601.17 1911.7 1602.8 1912.4" stroke-width="2.45"/>
<path d="M1590 1885.5 L1590 1906.2" stroke-width="2.8"/>
<path d="M1587.6 1887.2 L1587.6 1904.6" stroke-width="1.9"/>
<path d="M1550.9 1993.5 L1602.7 1936" stroke-width="2.45"/>
<path d="M1558.5 1997.3 L1602.7 1948.6" stroke-width="2.45"/>
<path d="M1557.2 2009.9 L1586.2 1979 L1602.7 1961.2" stroke-width="2.45"/>
<path d="M1550.9 1993.5 L1558.5 1997.3" stroke-width="2.45"/>
<path d="M1557.2 1998 L1557.2 2009.9" stroke-width="2.45"/>
<path d="M1466.5 1958.5 L1547.7 1994.1 L1547.7 1999.8 L1550.9 1999.8 L1550.9 1993.5" stroke-width="2.45"/>
<path d="M1586.2 1980.9 L1634.3 2004.2" stroke-width="2.45"/>
<path d="M1448.3 1942.4 C1448.7 1941.82 1445.02 1945.57 1450.7 1938.9 C1456.38 1932.23 1473.22 1913.88 1482.4 1902.4 C1491.58 1890.92 1500.23 1877.02 1505.8 1870 C1511.37 1862.98 1514.13 1861.92 1515.8 1860.3" stroke-width="2.45"/>
<path d="M1515.8 1860.3 L1520.3 1863.1" stroke-width="2.45"/>
<path d="M1520.3 1863.1 C1518.8 1864.7 1516.93 1865.7 1511.3 1872.7 C1505.67 1879.7 1495.8 1893.72 1486.5 1905.1 C1477.2 1916.48 1460.67 1935.02 1455.5 1941" stroke-width="2.45"/>
<path d="M1505.8 1870 L1511.3 1872.7" stroke-width="2"/>
<path d="M1482.4 1902.4 L1486.5 1905.1" stroke-width="2"/>
<path d="M1450.7 1938.9 L1455.5 1941" stroke-width="2"/>
<path d="M1520.3 1863.1 L1522 1864 L1522 1870.7" stroke-width="2.45"/>
<path d="M1522 1870.7 C1519.53 1874.6 1515.42 1884 1507.2 1894.1 C1498.98 1904.2 1481.6 1921.65 1472.7 1931.3 C1463.8 1940.95 1456.95 1948.55 1453.8 1952" stroke-width="3.6"/>
<path d="M1448.3 1942.7 L1447.9 1948.2 L1453.8 1950.6 L1454.8 1945.5" stroke-width="2.45"/>
<path d="M1462 1949.2 C1462.52 1948.52 1459.4 1951.75 1465.1 1945.1 C1470.8 1938.45 1486.88 1920.67 1496.2 1909.3 C1505.52 1897.93 1515.55 1883.97 1521 1876.9 C1526.45 1869.83 1527.58 1868.57 1528.9 1866.9" stroke-width="2.45"/>
<path d="M1528.9 1866.9 L1534.8 1870" stroke-width="2.45"/>
<path d="M1534.8 1870 C1533.18 1871.6 1530.85 1872.6 1525.1 1879.6 C1519.35 1886.6 1509.48 1900.62 1500.3 1912 C1491.12 1923.38 1475.05 1941.92 1470 1947.9" stroke-width="2.45"/>
<path d="M1521 1876.9 L1525.1 1879.6" stroke-width="2"/>
<path d="M1496.2 1909.3 L1500.3 1912" stroke-width="2"/>
<path d="M1465.1 1945.1 L1470 1947.9" stroke-width="2"/>
<path d="M1534.8 1870 L1535.1 1887.2" stroke-width="2.45"/>
<path d="M1535.1 1887.2 C1531.37 1891.1 1521.03 1901.87 1512.7 1910.6 C1504.37 1919.33 1492.45 1931.43 1485.1 1939.6 C1477.75 1947.77 1471.35 1956.27 1468.6 1959.6" stroke-width="2.45"/>
<path d="M1462 1949.2 L1461 1954.8 L1467.2 1958.9 L1468.3 1952" stroke-width="2.45"/>
<path d="M1520.3 1872.7 C1515.58 1879.02 1500.73 1899.57 1492 1910.6 C1483.27 1921.63 1473.07 1932.57 1467.9 1938.9 C1462.73 1945.23 1462.15 1946.98 1461 1948.6" stroke-width="2.1"/>
<path d="M1453.8 1950.6 L1460.5 1956.5 L1461 1954.8" stroke-width="2.1"/>
<path d="M1626.6 1875.7 L1634.8 1877 L1645.5 1865 L1645.5 1897.2 L1634.8 1910.5" stroke-width="2.45"/>
<path d="M1634.8 1910.5 C1633.93 1910.05 1630.97 1908.97 1629.6 1907.8 C1628.23 1906.63 1627.1 1904.22 1626.6 1903.5" stroke-width="2.45"/>
<path d="M1626.6 1903.5 L1626.6 1875.7" stroke-width="2.45"/>
<path d="M1626.6 1876.5 C1627.17 1877.17 1628.63 1880.33 1630 1880.5 C1631.37 1880.67 1634 1878 1634.8 1877.5" stroke-width="2"/>
<path d="M1636.7 1878.3 C1636.7 1880.62 1636.32 1889.25 1636.7 1892.2 C1637.08 1895.15 1637.73 1894.95 1639 1896 C1640.27 1897.05 1643.42 1898.08 1644.3 1898.5" stroke-width="2"/>
<path d="M1628 1903.4 L1637.2 1894" stroke-width="1.8"/>
<path d="M1630.3 1905.7 L1640 1896" stroke-width="1.8"/>
<path d="M1632.8 1908 L1643 1897.8" stroke-width="1.8"/>
<path d="M1660.9 1884.6 C1662.42 1885.13 1667.35 1886.57 1670 1887.8 C1672.65 1889.03 1675.27 1890.38 1676.8 1892 C1678.33 1893.62 1678.78 1895.67 1679.2 1897.5 C1679.62 1899.33 1679.28 1902.08 1679.3 1903" stroke-width="2.45"/>
<path d="M1679.2 1902 L1679.2 1980" stroke-width="2.6"/>
<path d="M1679.2 1980 C1679.1 1980.58 1679.13 1982.42 1678.6 1983.5 C1678.07 1984.58 1676.43 1986 1676 1986.5" stroke-width="2.45"/>
<path d="M1676 1986.5 L1636 2025.5" stroke-width="2.45"/>
<path d="M1634.6 2026.4 L1634.6 2047.8" stroke-width="2.2"/>
<path d="M1637 2025 L1637 2045" stroke-width="1.9"/>
<path d="M1634.3 2047.8 L1603.9 2079.4" stroke-width="2.45"/>
<path d="M1603.9 2079.4 C1603.25 2079.97 1601.25 2081.95 1600 2082.8 C1598.75 2083.65 1598.48 2084.12 1596.4 2084.5 C1594.32 2084.88 1589.5 2085.2 1587.5 2085.1 C1585.5 2085 1584.92 2084.1 1584.4 2083.9" stroke-width="2.45"/>
<path d="M1602.7 2063 L1602.7 2079.8" stroke-width="2.45"/>
<path d="M1602.7 2063 L1584.4 2083.9" stroke-width="2.45"/>
<path d="M1634.9 2005.5 L1561 2084.5" stroke-width="2.45"/>
<path d="M1561 2084.5 C1560.15 2085.13 1558.02 2087.57 1555.9 2088.3 C1553.78 2089.03 1550.62 2089.25 1548.3 2088.9 C1545.98 2088.55 1543.05 2086.65 1542 2086.2" stroke-width="2.45"/>
<path d="M1542 2086.2 L1511.7 2071.8" stroke-width="2.45"/>
<path d="M1511.7 2071.8 C1510.85 2071.18 1507.23 2069.57 1506.6 2068.1 C1505.97 2066.63 1506.42 2065.12 1507.9 2063 C1509.38 2060.88 1513.6 2057.93 1515.5 2055.4 C1517.4 2052.87 1519.52 2050.32 1519.3 2047.8 C1519.08 2045.28 1516.25 2042.15 1514.2 2040.3 C1512.15 2038.45 1508.2 2037.3 1507 2036.7" stroke-width="2.45"/>
<path d="M1507 2036.7 L1495.3 2031.4" stroke-width="2.45"/>
<path d="M1495.3 2031.4 C1494.25 2031.18 1491.12 2029.88 1489 2030.1 C1486.88 2030.32 1484.35 2031.63 1482.6 2032.7 C1480.85 2033.77 1480.45 2034.6 1478.5 2036.5 C1476.55 2038.4 1473.43 2042.53 1470.9 2044.1 C1468.37 2045.67 1465.62 2045.7 1463.3 2045.9 C1460.98 2046.1 1458.05 2045.4 1457 2045.3" stroke-width="2.45"/>
<path d="M1457 2045.3 L1381.2 2007.4" stroke-width="2.45"/>
<path d="M1381.2 2007.4 C1381.03 2006.72 1380.2 2004.57 1380.2 2003.3 C1380.2 2002.03 1379.88 2001.65 1381.2 1999.8 C1382.52 1997.95 1386.32 1994.52 1388.1 1992.2 C1389.88 1989.88 1392 1988.1 1391.9 1985.9 C1391.8 1983.7 1388.23 1980.15 1387.5 1979" stroke-width="2.45"/>
<path d="M1387.5 1979 L1369.8 1970.1" stroke-width="2.45"/>
<path d="M1369.8 1970.1 C1368.53 1969.78 1364.52 1968.08 1362.2 1968.2 C1359.88 1968.32 1358.42 1968.9 1355.9 1970.8 C1353.38 1972.7 1349.62 1977.5 1347.1 1979.6 C1344.58 1981.7 1342.92 1982.67 1340.8 1983.4 C1338.68 1984.13 1336.3 1984.1 1334.4 1984 C1332.5 1983.9 1330.23 1983 1329.4 1982.8" stroke-width="2.45"/>
<path d="M1329.4 1982.8 L1297.2 1966.3" stroke-width="2.45"/>
<path d="M1297.2 1966.3 C1296.55 1965.67 1293.92 1963.92 1293.3 1962.5 C1292.68 1961.08 1292.53 1959.58 1293.5 1957.8 C1294.47 1956.02 1298.17 1952.8 1299.1 1951.8" stroke-width="2.45"/>
<path d="M1299.1 1951.8 L1370.7 1876.9" stroke-width="2.45"/>
<path d="M1292.8 1960.7 L1292.8 1982.1" stroke-width="2.45"/>
<path d="M1292.8 1982.1 C1293 1982.75 1292.75 1984.52 1294 1986 C1295.25 1987.48 1299.25 1990.17 1300.3 1991" stroke-width="2.45"/>
<path d="M1300.3 1991 L1330.7 2007.4" stroke-width="2.45"/>
<path d="M1330.7 2007.4 C1331.53 2007.62 1333.82 2008.7 1335.7 2008.7 C1337.58 2008.7 1339.9 2008.45 1342 2007.4 C1344.1 2006.35 1345.98 2004.62 1348.3 2002.4 C1350.62 2000.18 1353.58 1995.9 1355.9 1994.1 C1358.22 1992.3 1359.88 1991.7 1362.2 1991.6 C1364.52 1991.5 1368.53 1993.18 1369.8 1993.5" stroke-width="2.45"/>
<path d="M1369.8 1993.5 L1381.2 1999.2" stroke-width="2.45"/>
<path d="M1297.2 1967 L1297.2 1988.8" stroke-width="2.1"/>
<path d="M1329.4 1982.8 L1329.4 2006.8" stroke-width="2.2"/>
<path d="M1345.8 1980.9 L1345.8 2004.9" stroke-width="2.2"/>
<path d="M1354 1973.3 L1354 1996.7" stroke-width="2.2"/>
<path d="M1369.2 1970.1 L1369.2 1993.5" stroke-width="2.2"/>
<path d="M1388.1 1980.5 L1388.1 1991.5" stroke-width="2.2"/>
<path d="M1379.9 2004.9 L1379.9 2026.4" stroke-width="2.45"/>
<path d="M1379.9 2026.4 C1380.17 2027.17 1380.65 2029.75 1381.5 2031 C1382.35 2032.25 1384.42 2033.42 1385 2033.9" stroke-width="2.45"/>
<path d="M1384.4 2009.9 L1384.4 2033.3" stroke-width="2.1"/>
<path d="M1385 2033.9 L1398.3 2039.6 L1398.3 2059.2 L1401.4 2060.5 L1443.1 2080.7" stroke-width="2.45"/>
<path d="M1443.1 2080.7 C1444.58 2081.02 1448.83 2082.82 1452 2082.6 C1455.17 2082.38 1459.78 2080.77 1462.1 2079.4 C1464.42 2078.03 1465.17 2075.97 1465.9 2074.4 C1466.63 2072.83 1466.4 2070.73 1466.5 2070" stroke-width="2.45"/>
<path d="M1443.7 2080.7 L1443.7 2061.7 L1457 2068.7 L1467.1 2069.3" stroke-width="2.45"/>
<path d="M1490 2053.5 C1488.72 2054.25 1485.27 2055.78 1482.3 2058 C1479.33 2060.22 1474.73 2064.92 1472.2 2066.8 C1469.67 2068.68 1467.95 2068.88 1467.1 2069.3" stroke-width="2.45"/>
<path d="M1457 2045.3 L1457 2068.7" stroke-width="2.2"/>
<path d="M1472.2 2044.1 L1472.2 2066.8" stroke-width="2.2"/>
<path d="M1479.8 2036.5 L1479.8 2058" stroke-width="2.2"/>
<path d="M1495.9 2031.4 L1495.9 2055.4" stroke-width="2.2"/>
<path d="M1514.9 2040.9 L1514.9 2054.2" stroke-width="2.2"/>
<path d="M1482.6 2056.7 C1483.67 2056.38 1486.68 2054.92 1489 2054.8 C1491.32 2054.68 1493.35 2054.85 1496.5 2056 C1499.65 2057.15 1506 2060.75 1507.9 2061.7" stroke-width="2.45"/>
<path d="M1391.3 2037 L1391.3 2062.5" stroke-width="2.45"/>
<path d="M1398.9 2060 L1398.9 2062.5" stroke-width="2.45"/>
<path d="M1391.3 2062.5 C1391.5 2062.85 1391.87 2064.18 1392.5 2064.6 C1393.13 2065.02 1394.22 2065 1395.1 2065 C1395.98 2065 1397.17 2065.02 1397.8 2064.6 C1398.43 2064.18 1398.72 2062.85 1398.9 2062.5" stroke-width="2.45"/>
<path d="M1394.4 2039 L1394.4 2055.4" stroke-width="1.9"/>
<path d="M1506.6 2068.1 L1506.6 2087" stroke-width="2.45"/>
<path d="M1506.6 2087 C1506.8 2088.08 1506.95 2091.6 1507.8 2093.5 C1508.65 2095.4 1511.05 2097.58 1511.7 2098.4" stroke-width="2.45"/>
<path d="M1511.7 2073.1 L1511.7 2098.4 L1544.6 2109.8" stroke-width="2.45"/>
<path d="M1544.6 2109.8 C1545.85 2110 1549.78 2111.18 1552.1 2111 C1554.42 2110.82 1556.85 2109.53 1558.5 2108.7 C1560.15 2107.87 1561.42 2106.45 1562 2106" stroke-width="2.45"/>
<path d="M1562 2106 L1602.7 2063" stroke-width="2.45"/>
<path d="M1544.6 2088.3 L1544.6 2109.8" stroke-width="2.2"/>
<path d="M1560.3 2085.7 L1560.3 2108" stroke-width="2.2"/>
<path d="M1509.2 2096.5 L1509.2 2121" stroke-width="2.45"/>
<path d="M1518 2101 L1518 2121" stroke-width="2.45"/>
<path d="M1509.2 2121 C1509.42 2121.4 1509.77 2122.9 1510.5 2123.4 C1511.23 2123.9 1512.57 2124 1513.6 2124 C1514.63 2124 1515.97 2123.9 1516.7 2123.4 C1517.43 2122.9 1517.78 2121.4 1518 2121" stroke-width="2.45"/>
</g>
</svg>
</body></html>
